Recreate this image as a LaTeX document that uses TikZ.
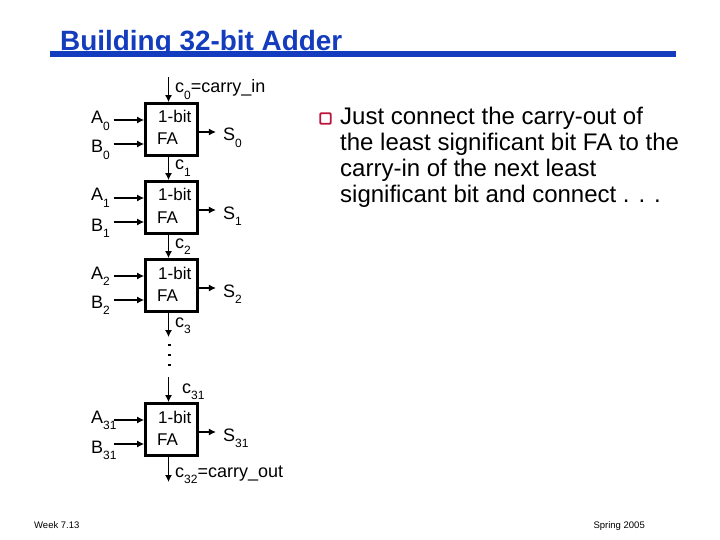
\documentclass[tikz,border=0pt]{standalone}
\usepackage{fontspec}
\setmainfont{Liberation Sans}
\usetikzlibrary{arrows.meta,calc}
\definecolor{ttl}{RGB}{20,60,190}
\definecolor{bul}{RGB}{190,20,60}
\newcommand{\lsub}[1]{\raisebox{-0.36em}{\fontsize{12}{12}\selectfont #1}}
\tikzset{x=1pt,y=-1pt,
  fa/.style={draw,line width=2.8pt,minimum width=52pt,minimum height=52pt,inner sep=0pt,outer sep=1.4pt},
  lbl/.style={inner sep=0pt,anchor=base west,font=\fontsize{18}{18}\selectfont},
  lab/.style={inner sep=0pt,anchor=base west,font=\fontsize{17}{17}\selectfont},
  wire/.style={line width=1.2pt,-{Latex[length=7pt,width=7pt]}},
  body/.style={inner sep=0pt,anchor=base west,font=\fontsize{24}{24}\selectfont},
  foot/.style={inner sep=0pt,anchor=base west,font=\fontsize{9.5}{9.5}\selectfont},
  vdot/.style={fill,inner sep=0pt,minimum size=2.8pt}}
\begin{document}
\begin{tikzpicture}
\useasboundingbox (0,0) rectangle (720,540);
\fill[white] (0,0) rectangle (720,540);
\node[inner sep=0pt,anchor=base west,font=\fontsize{27.9}{27.9}\selectfont\bfseries,text=ttl] (title) at (60,51) {Building 32-bit Adder};
\fill[white] (50,51) rectangle (680,60);
\node[fill=ttl,inner sep=0pt,minimum width=626pt,minimum height=5.5pt,anchor=north west] (rule) at (50,51) {};
% full adders
\foreach \n/\y in {a/129.5,b/207.5,c/285.5,d/429.5}{
  \node[fa] (\n) at (171.5,\y) {};
  \node[lab] (\n t1) at (158,\y-6.5) {1-bit};
  \node[lab] (\n t2) at (157,\y+15.5) {FA};
}
% labels
\node[lbl] (c0) at (175,93) {c\lsub{0}=carry\_in};
\node[lbl] (c1) at (175,170) {c\lsub{1}};
\node[lbl] (c2) at (175,248) {c\lsub{2}};
\node[lbl] (c3) at (175,327) {c\lsub{3}};
\node[lbl] (c31) at (182,393) {c\lsub{31}};
\node[lbl] (c32) at (175,477) {c\lsub{32}=carry\_out};
\node[lbl] (A0) at (91,124) {A\lsub{0}}; \node[lbl] (B0) at (91,153) {B\lsub{0}};
\node[lbl] (A1) at (91,201) {A\lsub{1}}; \node[lbl] (B1) at (91,231) {B\lsub{1}};
\node[lbl] (A2) at (91,279) {A\lsub{2}}; \node[lbl] (B2) at (91,308) {B\lsub{2}};
\node[lbl] (A3) at (91,423) {A\lsub{31}}; \node[lbl] (B3) at (91,453) {B\lsub{31}};
\foreach \n/\y/\q/\r in {a/129.5/A0/B0,b/207.5/A1/B1,c/285.5/A2/B2,d/429.5/A3/B3}{
  \coordinate (\q i) at (113.5,\y-9.5);
  \coordinate (\r i) at (113.5,\y+14.5);
  \draw[wire] (\q i) -- (\n.west |- \q i);
  \draw[wire] (\r i) -- (\n.west |- \r i);
}
% sums
\node[lbl] (S0) at (223,141) {S\lsub{0}};
\node[lbl] (S1) at (223,219) {S\lsub{1}};
\node[lbl] (S2) at (223,297) {S\lsub{2}};
\node[lbl] (S3) at (223,441) {S\lsub{31}};
\foreach \n/\s in {a/S0,b/S1,c/S2,d/S3}{
  \coordinate (\s i) at ($(\n.east)+(17,2.5)$);
  \draw[wire] (\n.east |- \s i) -- (\s i);
}
% carries
\coordinate (top) at (168.5,77);
\coordinate (mid1) at (168.5,337);
\coordinate (mid2) at (168.5,377);
\coordinate (bot) at (168.5,482);
\draw[wire] (top) -- (top |- a.north);
\draw[wire] (a.south -| top) -- (top |- b.north);
\draw[wire] (b.south -| top) -- (top |- c.north);
\draw[wire] (c.south -| top) -- (mid1);
\draw[wire] (mid2) -- (mid2 |- d.north);
\draw[wire] (d.south -| top) -- (bot);
\node[vdot] (d1) at (169.5,345) {};
\node[vdot] (d2) at (169.5,355) {};
\node[vdot] (d3) at (169.5,365) {};
% bullet text
\node[draw=bul,line width=1.8pt,rounded corners=1pt,fill=white,inner sep=0pt,minimum size=10.5pt] (bullet) at (325.5,118.5) {};
\node[body] (l1) at (340,125) {Just connect the carry-out of};
\node[body] (l2) at (340,151) {the least significant bit FA to the};
\node[body] (l3) at (340,177) {carry-in of the next least};
\node[body] (l4) at (340,203) {significant bit and connect . . .};
% footer
\node[foot] (wk) at (34,528) {Week 7.13};
\node[foot,anchor=base east] (sp) at (645,528) {Spring 2005};
\end{tikzpicture}
\end{document}
